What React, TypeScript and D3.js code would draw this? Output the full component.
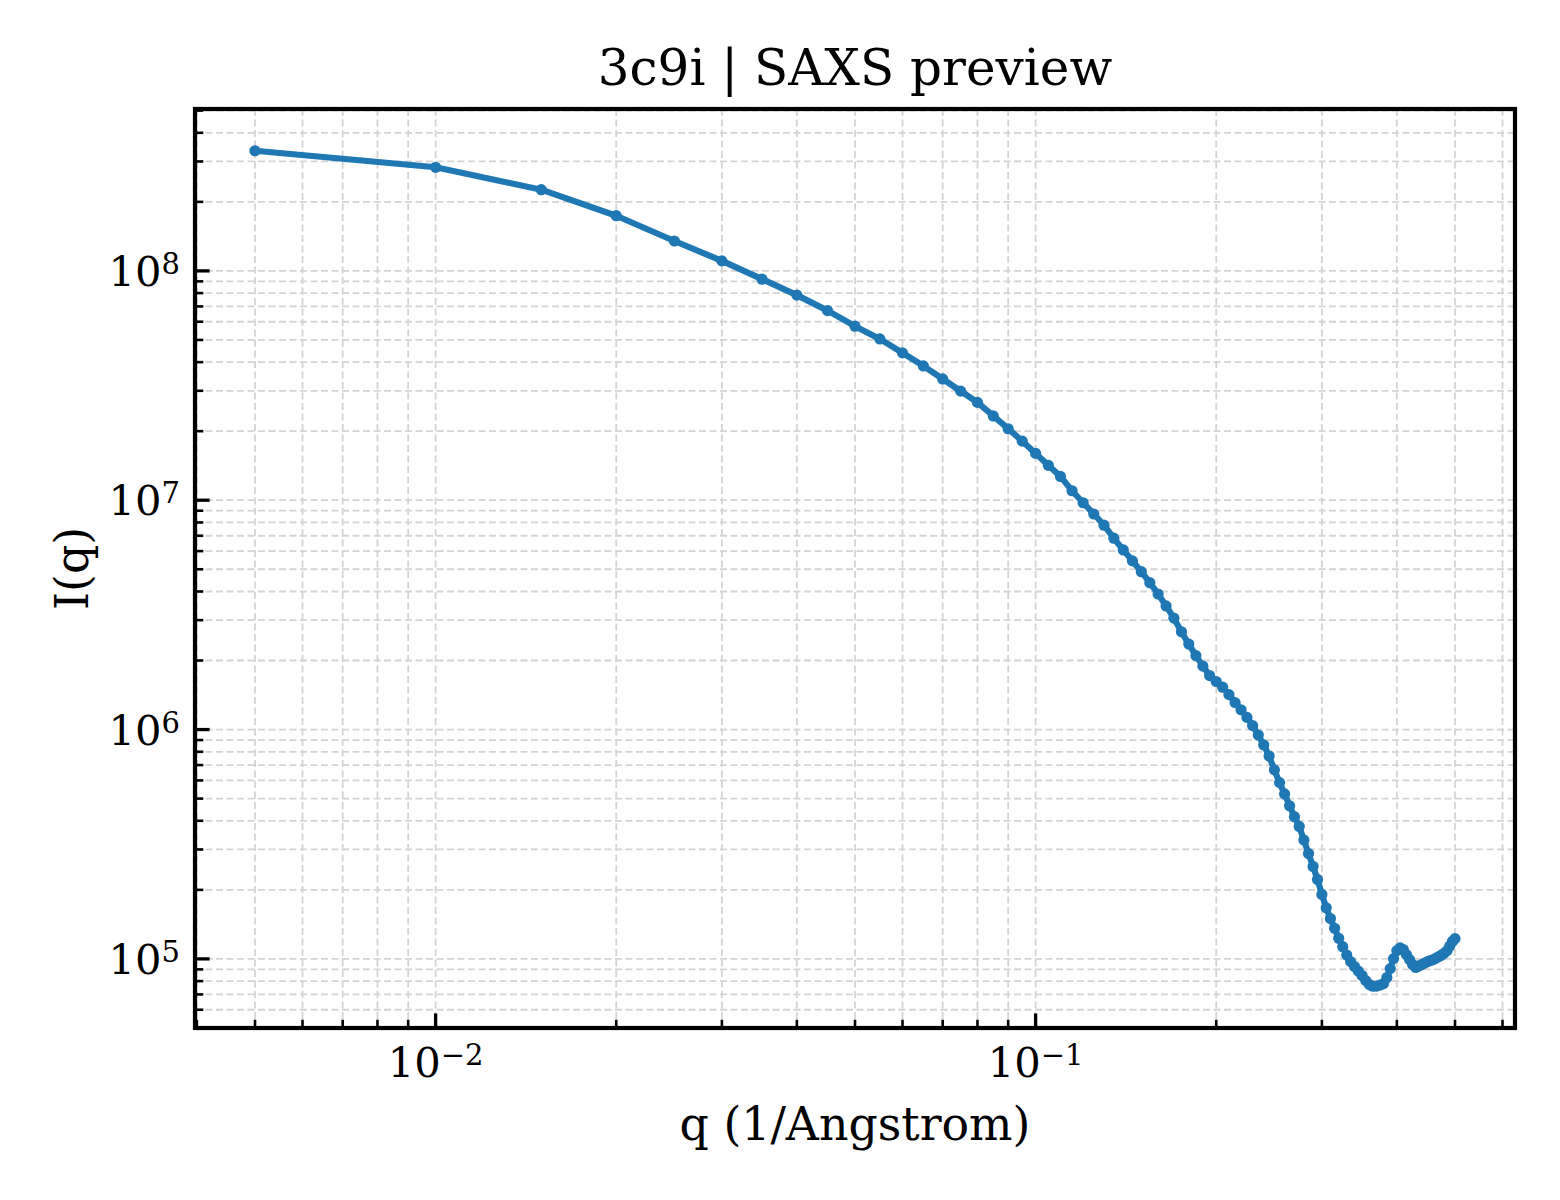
import React from "react";
import * as d3 from "d3";

// ---- data ----
const qValues: number[] = [
  0.005, 0.01, 0.015, 0.02, 0.025, 0.03, 0.035, 0.04, 0.045, 0.05,
  0.055, 0.06, 0.065, 0.07, 0.075, 0.08, 0.085, 0.09, 0.095, 0.1,
  0.105, 0.11, 0.115, 0.12, 0.125, 0.13, 0.135, 0.14, 0.145, 0.15,
  0.155, 0.16, 0.165, 0.17, 0.175, 0.18, 0.185, 0.19, 0.195, 0.2,
  0.205, 0.21, 0.215, 0.22, 0.225, 0.23, 0.235, 0.24, 0.245, 0.25,
  0.255, 0.26, 0.265, 0.27, 0.275, 0.28, 0.285, 0.29, 0.295, 0.3,
  0.305, 0.31, 0.315, 0.32, 0.325, 0.33, 0.335, 0.34, 0.345, 0.35,
  0.355, 0.36, 0.365, 0.37, 0.375, 0.38, 0.385, 0.39, 0.395, 0.4,
  0.405, 0.41, 0.415, 0.42, 0.425, 0.43, 0.435, 0.44, 0.445, 0.45,
  0.455, 0.46, 0.465, 0.47, 0.475, 0.48, 0.485, 0.49, 0.495, 0.5,
];

const intensity: number[] = [
  3.34e8, 2.83e8, 2.26e8, 1.74e8, 1.35e8, 1.106e8, 9.2e7, 7.84e7, 6.71e7, 5.74e7,
  5.05e7, 4.39e7, 3.85e7, 3.38e7, 2.99e7, 2.67e7, 2.33e7, 2.05e7, 1.81e7, 1.6e7,
  1.42e7, 1.27e7, 1.1e7, 9.75e6, 8.71e6, 7.78e6, 6.83e6, 6.07e6, 5.44e6, 4.88e6,
  4.37e6, 3.9e6, 3.46e6, 3.06e6, 2.67e6, 2.36e6, 2.1e6, 1.89e6, 1.72e6, 1.62e6,
  1.53e6, 1.42e6, 1.31e6, 1.22e6, 1.13e6, 1.04e6, 9.47e5, 8.57e5, 7.67e5, 6.67e5,
  5.87e5, 5.24e5, 4.65e5, 4.17e5, 3.78e5, 3.3e5, 2.88e5, 2.53e5, 2.22e5, 1.91e5,
  1.67e5, 1.5e5, 1.36e5, 1.23e5, 1.13e5, 1.04e5, 9.73e4, 9.26e4, 8.85e4, 8.46e4,
  8.04e4, 7.73e4, 7.6e4, 7.61e4, 7.69e4, 7.8e4, 8.29e4, 9.07e4, 1.003e5, 1.087e5,
  1.117e5, 1.098e5, 1.044e5, 9.93e4, 9.45e4, 9.17e4, 9.3e4, 9.45e4, 9.59e4, 9.73e4,
  9.83e4, 9.93e4, 1.008e5, 1.023e5, 1.039e5, 1.06e5, 1.087e5, 1.137e5, 1.19e5, 1.226e5,
];

const xMajorTicks: number[] = [0.01, 0.1];
const xMajorExps: string[] = ["\u22122", "\u22121"];
const yMajorTicks: number[] = [1e5, 1e6, 1e7, 1e8];
const yMajorExps: string[] = ["5", "6", "7", "8"];

const titleText = "3c9i | SAXS preview";
const xLabelText = "q (1/Angstrom)";
const yLabelText = "I(q)";

// ---- layout ----
const W = 1560;
const H = 1200;
const left = 195;
const right = 1515;
const top = 109;
const bottom = 1028;

const lineColor = "#1f77b4";
const gridColor = "#d4d4d4";

function logPadDomain(vals: number[]): [number, number] {
  const lo = Math.log10(d3.min(vals) as number);
  const hi = Math.log10(d3.max(vals) as number);
  const pad = (hi - lo) * 0.05;
  return [Math.pow(10, lo - pad), Math.pow(10, hi + pad)];
}

export default function App() {
  const x = d3.scaleLog().domain(logPadDomain(qValues)).range([left, right]);
  const y = d3.scaleLog().domain(logPadDomain(intensity)).range([bottom, top]);

  const [xd0, xd1] = x.domain();
  const [yd0, yd1] = y.domain();
  const xAll = x.ticks().filter((t) => t >= xd0 && t <= xd1);
  const yAll = y.ticks().filter((t) => t >= yd0 && t <= yd1);
  const isMajor = (t: number) => Math.abs(Math.log10(t) - Math.round(Math.log10(t))) < 1e-9;
  const xMinor = xAll.filter((t) => !isMajor(t));
  const yMinor = yAll.filter((t) => !isMajor(t));

  const pts = qValues.map((q, i) => [q, intensity[i]] as [number, number]);
  const line = d3
    .line<[number, number]>()
    .x((d) => x(d[0]))
    .y((d) => y(d[1]));

  const majorLen = 14.6;
  const minorLen = 8.3;
  const tickFont = "'DejaVu Serif', serif";
  const serif = "'DejaVu Serif', serif";

  return (
    <div style={{ position: "absolute", left: 0, top: 0 }}>
      <svg width={W} height={H} viewBox={`0 0 ${W} ${H}`} style={{ display: "block", background: "#fff" }}>
        <rect x={0} y={0} width={W} height={H} fill="#fff" />
        {/* grid */}
        <g stroke={gridColor} strokeWidth={1.8} strokeDasharray="7,3.5" fill="none">
          {xAll.map((t, i) => (
            <line key={"gx" + i} x1={x(t)} x2={x(t)} y1={top} y2={bottom} />
          ))}
          {yAll.map((t, i) => (
            <line key={"gy" + i} x1={left} x2={right} y1={y(t)} y2={y(t)} />
          ))}
        </g>
        {/* data */}
        <path d={line(pts) || ""} fill="none" stroke={lineColor} strokeWidth={6.2} strokeLinejoin="round" strokeLinecap="round" />
        <g fill={lineColor}>
          {pts.map((p, i) => (
            <circle key={"m" + i} cx={x(p[0])} cy={y(p[1])} r={5.6} />
          ))}
        </g>
        {/* ticks (inward, left & bottom) */}
        <g stroke="#000">
          {xMajorTicks.map((t, i) => (
            <line key={"xM" + i} x1={x(t)} x2={x(t)} y1={bottom} y2={bottom - majorLen} strokeWidth={3.3} />
          ))}
          {xMinor.map((t, i) => (
            <line key={"xm" + i} x1={x(t)} x2={x(t)} y1={bottom} y2={bottom - minorLen} strokeWidth={2.6} />
          ))}
          {yMajorTicks.map((t, i) => (
            <line key={"yM" + i} x1={left} x2={left + majorLen} y1={y(t)} y2={y(t)} strokeWidth={3.3} />
          ))}
          {yMinor.map((t, i) => (
            <line key={"ym" + i} x1={left} x2={left + minorLen} y1={y(t)} y2={y(t)} strokeWidth={2.6} />
          ))}
        </g>
        {/* spines */}
        <rect x={left} y={top} width={right - left} height={bottom - top} fill="none" stroke="#000" strokeWidth={4.2} />
        {/* tick labels */}
        <g fontFamily={tickFont} fill="#000">
          {xMajorTicks.map((t, i) => (
            <text key={"xl" + i} x={x(t)} y={1077} fontSize={41.7} textAnchor="middle">
              10
              <tspan fontSize={29} dy={-12}>
                {xMajorExps[i]}
              </tspan>
            </text>
          ))}
          {yMajorTicks.map((t, i) => (
            <text key={"yl" + i} x={180} y={y(t) + 15} fontSize={41.7} textAnchor="end">
              10
              <tspan fontSize={29} dy={-12}>
                {yMajorExps[i]}
              </tspan>
            </text>
          ))}
        </g>
        {/* title and labels */}
        <text x={(left + right) / 2} y={85} fontFamily={serif} fontSize={50} textAnchor="middle" fill="#000">
          {titleText}
        </text>
        <text x={(left + right) / 2} y={1140} fontFamily={serif} fontSize={45.8} textAnchor="middle" fill="#000">
          {xLabelText}
        </text>
        <text
          transform={`translate(88,${(top + bottom) / 2}) rotate(-90)`}
          fontFamily={serif}
          fontSize={45.8}
          textAnchor="middle"
          fill="#000"
        >
          {yLabelText}
        </text>
      </svg>
    </div>
  );
}
